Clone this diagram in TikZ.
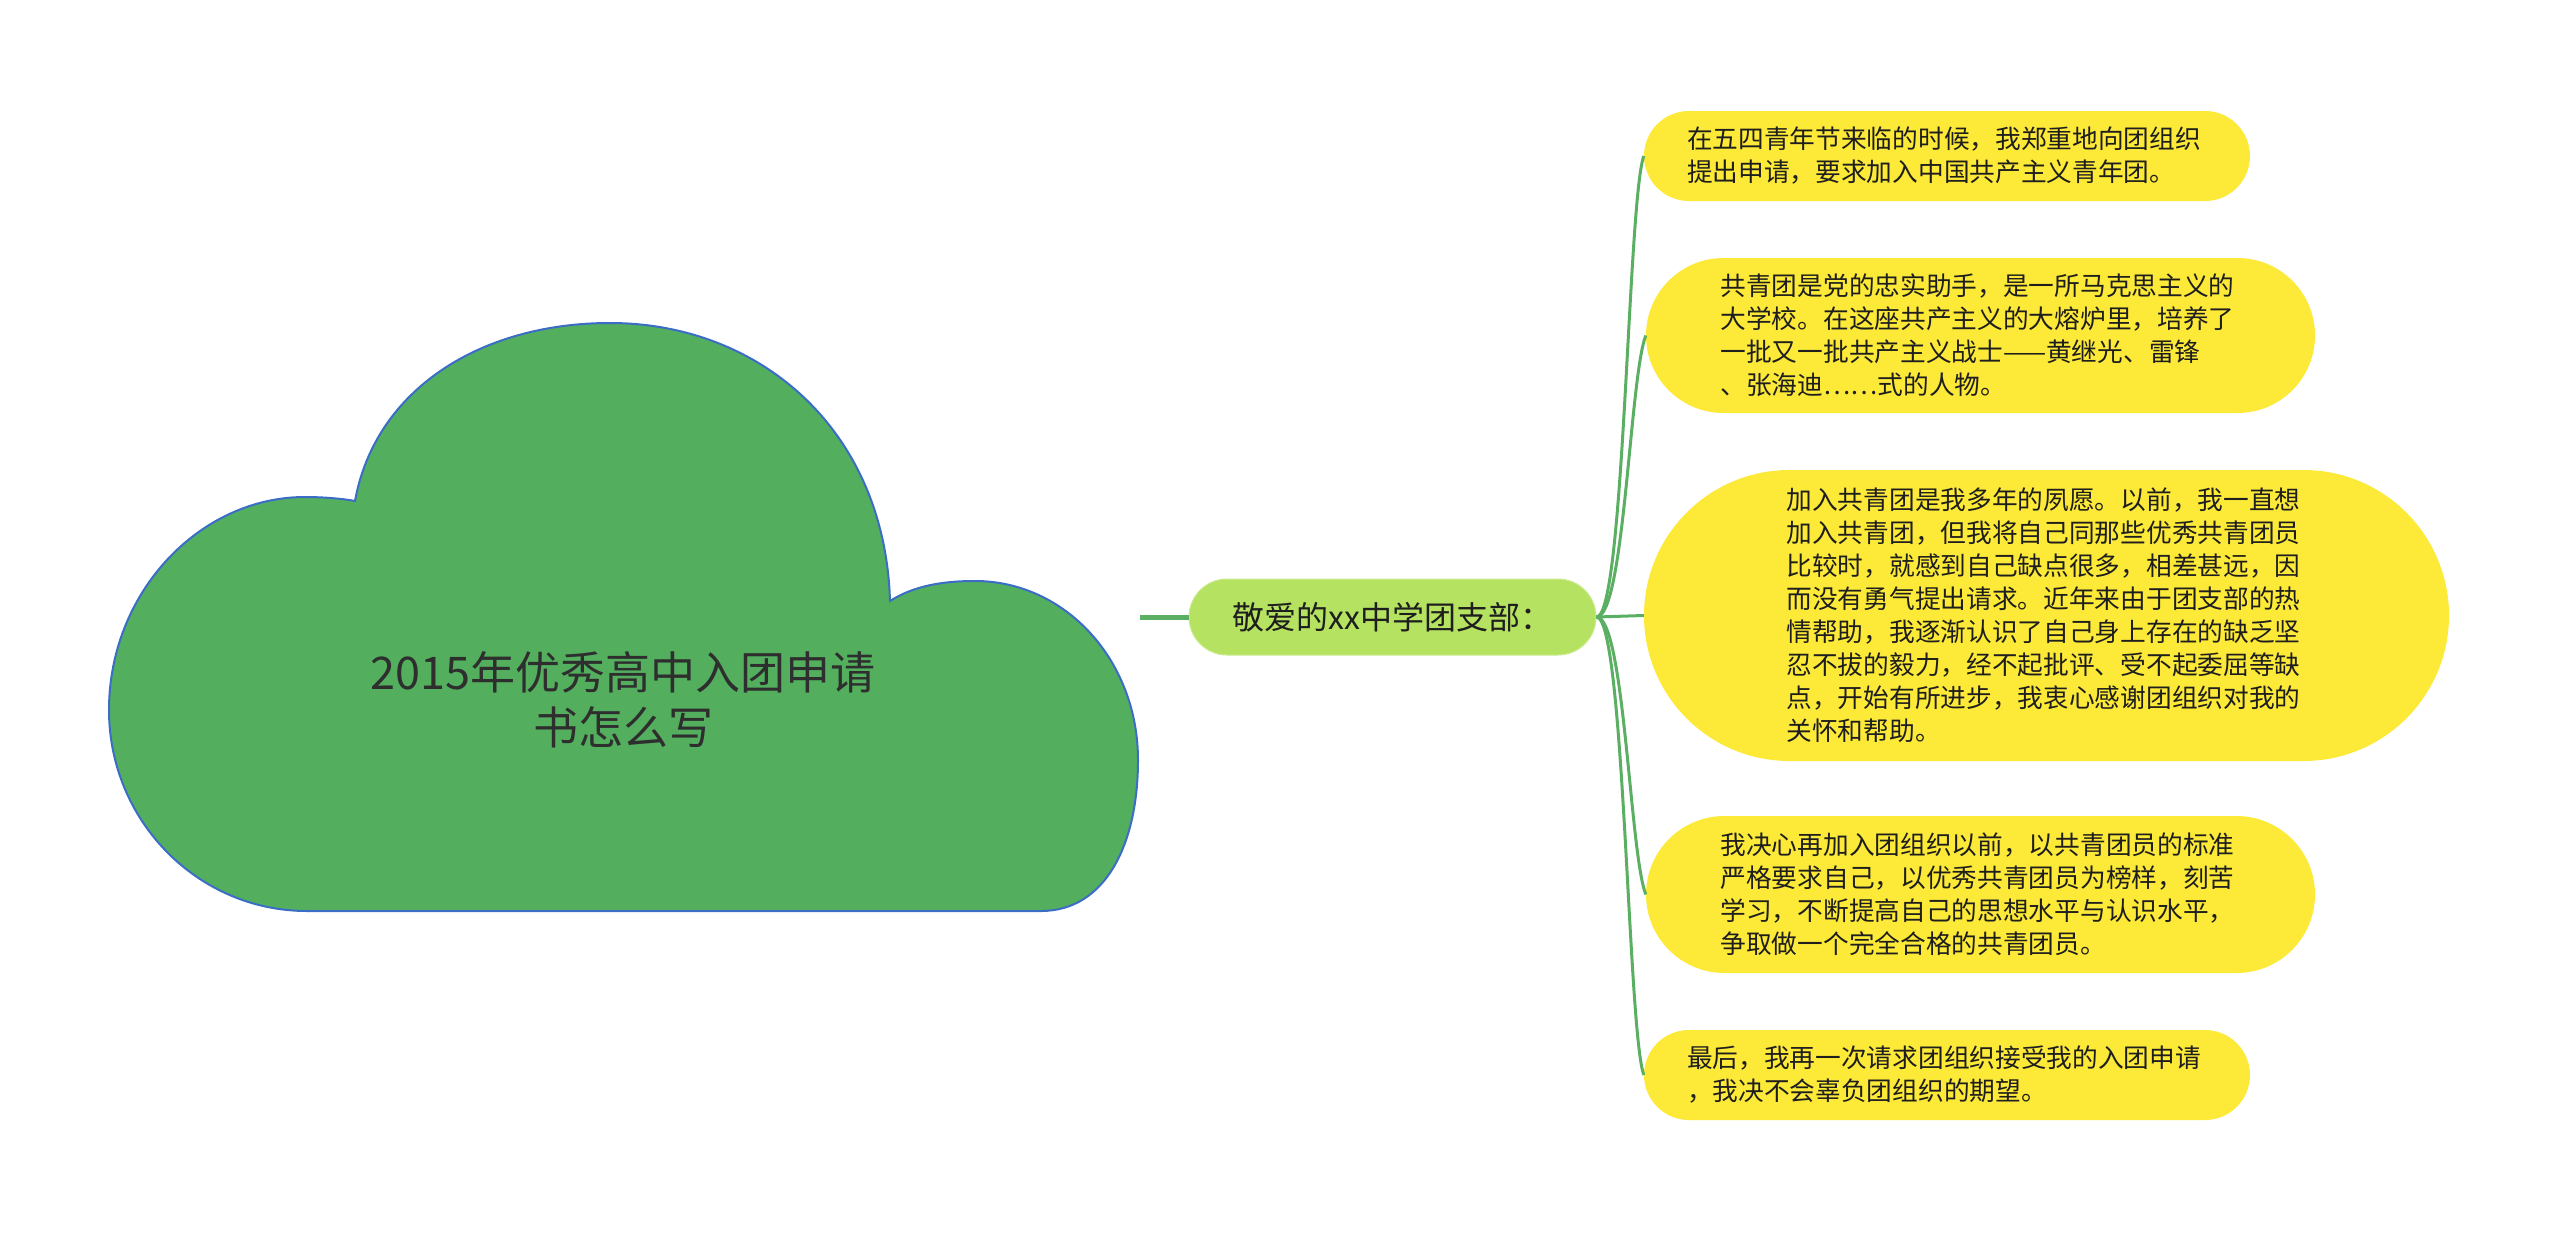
\documentclass[tikz,border=0pt]{standalone}
\usepackage{fontspec}
\setmainfont{Noto Sans CJK SC}
\usetikzlibrary{calc}
\definecolor{cloudfill}{HTML}{53AF5E}
\definecolor{cloudline}{HTML}{3B6DC7}
\definecolor{midfill}{HTML}{B5E361}
\definecolor{leaffill}{HTML}{FCE938}
\definecolor{branch}{HTML}{5BAF63}
\definecolor{txt}{HTML}{1E1E1E}
\definecolor{titletxt}{HTML}{2E2E2E}
\tikzset{
  leafbox/.style={draw=none, fill=leaffill, rectangle, inner sep=0pt, text width=520pt, align=left,
    text=txt, font=\fontsize{25.7pt}{33pt}\selectfont},
  midbox/.style={fill=midfill, draw=midfill!70!white, line width=1pt, rectangle, inner sep=0pt,
    minimum width=407pt, minimum height=76pt, rounded corners=38pt, text=txt,
    font=\fontsize{32pt}{38pt}\selectfont},
  titlebox/.style={align=center, text=titletxt, font=\fontsize{45pt}{55pt}\selectfont, inner sep=0pt},
  branchline/.style={draw=branch, line width=3pt},
  trunkline/.style={draw=branch, line width=5pt}
}
\begin{document}
\begin{tikzpicture}[x=1pt,y=-1pt]
\useasboundingbox (0,0) rectangle (2560,1232);
% cloud
\filldraw[fill=cloudfill, draw=cloudline, line width=2pt]
  (307,911) .. controls (198,911) and (109,821) .. (109,710)
  .. controls (109,592) and (200,497) .. (305,497)
  .. controls (325,497) and (345,499) .. (355,501)
  .. controls (375,390) and (480,323) .. (610,323)
  .. controls (760,323) and (885,430) .. (890,601)
  .. controls (915,585) and (945,581) .. (975,581)
  .. controls (1065,581) and (1138,660) .. (1138,760)
  .. controls (1138,845) and (1105,911) .. (1041,911)
  -- cycle;
\node[titlebox] (title) at (623,700) {2015年优秀高中入团申请\\书怎么写};
\coordinate (cloudR) at (1140,617);
% center node
\node[midbox] (mid) at (1392.5,617) {敬爱的xx中学团支部：};
% leaves
\node[leafbox, minimum width=606pt, minimum height=90pt, rounded corners=45pt] (l1) at (1947,156)
  {在五四青年节来临的时候，我郑重地向团组织\\提出申请，要求加入中国共产主义青年团。};
\node[leafbox, minimum width=669pt, minimum height=155pt, rounded corners=77.5pt] (l2) at (1980.5,335.5)
  {共青团是党的忠实助手，是一所马克思主义的\\大学校。在这座共产主义的大熔炉里，培养了\\一批又一批共产主义战士——黄继光、雷锋\\、张海迪……式的人物。};
\node[leafbox, minimum width=805pt, minimum height=291pt, rounded corners=145.5pt] (l3) at (2046.5,615.5)
  {加入共青团是我多年的夙愿。以前，我一直想\\加入共青团，但我将自己同那些优秀共青团员\\比较时，就感到自己缺点很多，相差甚远，因\\而没有勇气提出请求。近年来由于团支部的热\\情帮助，我逐渐认识了自己身上存在的缺乏坚\\忍不拔的毅力，经不起批评、受不起委屈等缺\\点，开始有所进步，我衷心感谢团组织对我的\\关怀和帮助。};
\node[leafbox, minimum width=669pt, minimum height=157pt, rounded corners=78.5pt] (l4) at (1980.5,894.5)
  {我决心再加入团组织以前，以共青团员的标准\\严格要求自己，以优秀共青团员为榜样，刻苦\\学习，不断提高自己的思想水平与认识水平，\\争取做一个完全合格的共青团员。};
\node[leafbox, minimum width=606pt, minimum height=90pt, rounded corners=45pt] (l5) at (1947,1075)
  {最后，我再一次请求团组织接受我的入团申请\\，我决不会辜负团组织的期望。};
% connectors
\draw[trunkline] (cloudR) -- (mid.west);
\draw[branchline] (mid.east) .. controls ($(mid.east)+(28,0)$) and ($(l1.west)+(-16,44)$) .. (l1.west);
\draw[branchline] (mid.east) .. controls ($(mid.east)+(28,0)$) and ($(l2.west)+(-16,40)$) .. (l2.west);
\draw[branchline] (mid.east) -- (l3.west);
\draw[branchline] (mid.east) .. controls ($(mid.east)+(28,0)$) and ($(l4.west)+(-16,-40)$) .. (l4.west);
\draw[branchline] (mid.east) .. controls ($(mid.east)+(28,0)$) and ($(l5.west)+(-16,-44)$) .. (l5.west);
\end{tikzpicture}
\end{document}
